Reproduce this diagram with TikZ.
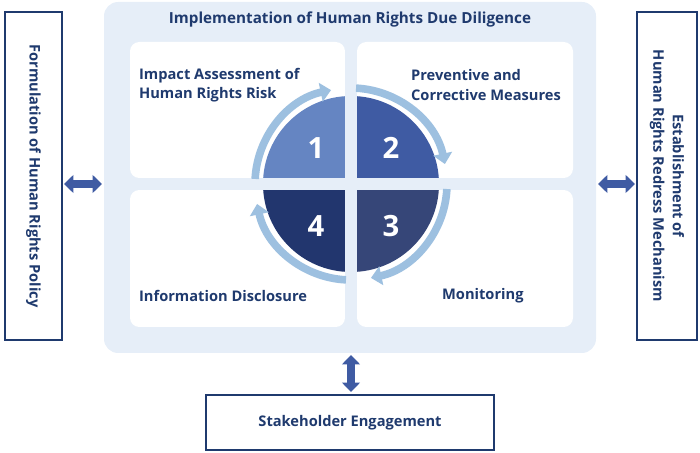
\documentclass[tikz,border=0pt]{standalone}
\usepackage{fontspec}
\setmainfont{Open Sans}
\usetikzlibrary{arrows.meta}
\definecolor{navy}{HTML}{1F3A6E}
\definecolor{panel}{HTML}{E6EEF8}
\definecolor{qa}{HTML}{6585C2}
\definecolor{qb}{HTML}{3F5BA3}
\definecolor{qc}{HTML}{364678}
\definecolor{qd}{HTML}{22366E}
\definecolor{ring}{HTML}{9DC0E0}
\definecolor{dbl}{HTML}{3F5BA3}
\tikzset{
  sidebox/.style={draw=navy,line width=2.2pt,fill=white},
  lbl/.style={text=navy,font=\fontsize{12.5}{16.5}\selectfont\bfseries,align=left},
  num/.style={text=white,font=\fontsize{25}{25}\selectfont\bfseries},
  dblarrow/.style={dbl,line width=6pt,{Triangle[width=15pt,length=8pt]}-{Triangle[width=15pt,length=8pt]}},
  ringarrow/.style={ring,line width=6.5pt,-{Triangle[width=16pt,length=9pt]}},
  quad/.style={fill=white,rounded corners=8pt}
}
\begin{document}
\begin{tikzpicture}[x=0.03cm,y=0.03cm]
\useasboundingbox (0,0) rectangle (700,453);
% panel
\fill[panel,rounded corners=12pt] (104,100) rectangle (596,451);
\node[lbl,font=\fontsize{13}{16}\selectfont\bfseries] (title) at (350,433) {Implementation of Human Rights Due Diligence};
\fill[quad] (130,275) rectangle (345,411);
\fill[quad] (357,275) rectangle (573,411);
\fill[quad] (130,126) rectangle (345,263);
\fill[quad] (357,126) rectangle (573,263);
% pie
\coordinate (c) at (351,269);
\fill[qa] (c) -- ++(180:88) arc (180:90:88) -- cycle;
\fill[qb] (c) -- ++(90:88) arc (90:0:88) -- cycle;
\fill[qc] (c) -- ++(0:88) arc (0:-90:88) -- cycle;
\fill[qd] (c) -- ++(-90:88) arc (-90:-180:88) -- cycle;
\fill[panel] (345,126) rectangle (357,411);
\fill[panel] (130,263) rectangle (573,275);
% ring arrows
\foreach \a in {180,90,0,-90}{
  \draw[ringarrow] ([shift={(\a-3:96)}]c) arc (\a-3:\a-78:96);
}
\node[num] (n1) at (316,305) {1};
\node[num] (n2) at (391,305) {2};
\node[num] (n3) at (391,227) {3};
\node[num] (n4) at (316,227) {4};
\node[lbl,anchor=west] (l1) at (135,368) {Impact Assessment of\\Human Rights Risk};
\node[lbl,anchor=west] (l2) at (407,368) {Preventive and\\Corrective Measures};
\node[lbl,anchor=west] (l4) at (135,157) {Information Disclosure};
\node[lbl,anchor=west] (l3) at (438,157) {Monitoring};
% side boxes
\draw[sidebox] (5,113) rectangle (62,441);
\node[lbl,rotate=-90,align=center] (lt) at (33.5,277) {Formulation of Human Rights Policy};
\draw[sidebox] (637,113) rectangle (697,441);
\node[lbl,rotate=-90,align=center] (rt) at (667,277) {Establishment of\\Human Rights Redress Mechanism};
\draw[sidebox] (206,3) rectangle (494,58);
\node[lbl] (st) at (350,30.5) {Stakeholder Engagement};
% double arrows
\coordinate (la) at (64,269); \coordinate (lb) at (102,269);
\coordinate (ra) at (598,269); \coordinate (rb) at (635,269);
\coordinate (ba) at (351,98); \coordinate (bb) at (351,61);
\draw[dblarrow] (la) -- (lb);
\draw[dblarrow] (ra) -- (rb);
\draw[dblarrow] (ba) -- (bb);
\end{tikzpicture}
\end{document}
